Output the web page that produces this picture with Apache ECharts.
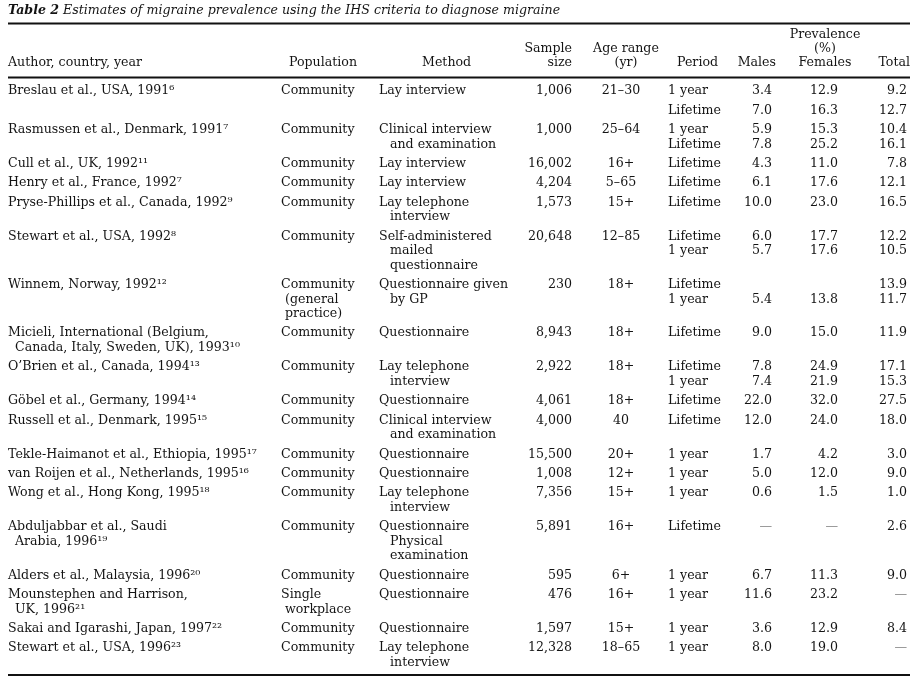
<!DOCTYPE html>
<html><head><meta charset="utf-8">
<script src="https://cdn.jsdelivr.net/npm/echarts@6/dist/echarts.min.js"></script>
<style>html,body{margin:0;padding:0;background:#fff}#main{width:920px;height:690px}</style>
</head><body><div id="main"></div>
<script>
const titleBold = "Table 2";
const titleText = "Estimates of migraine prevalence using the IHS criteria to diagnose migraine";
const headerLabels = ["Author, country, year","Population","Method","Sample\nsize","Age range\n(yr)","Period","Males","Prevalence\n(%)\nFemales","Total"];

const authors = ["Breslau et al., USA, 1991⁶","","Rasmussen et al., Denmark, 1991⁷","Cull et al., UK, 1992¹¹","Henry et al., France, 1992⁷","Pryse-Phillips et al., Canada, 1992⁹","Stewart et al., USA, 1992⁸","Winnem, Norway, 1992¹²","Micieli, International (Belgium,\nCanada, Italy, Sweden, UK), 1993¹⁰","O’Brien et al., Canada, 1994¹³","Göbel et al., Germany, 1994¹⁴","Russell et al., Denmark, 1995¹⁵","Tekle-Haimanot et al., Ethiopia, 1995¹⁷","van Roijen et al., Netherlands, 1995¹⁶","Wong et al., Hong Kong, 1995¹⁸","Abduljabbar et al., Saudi\nArabia, 1996¹⁹","Alders et al., Malaysia, 1996²⁰","Mounstephen and Harrison,\nUK, 1996²¹","Sakai and Igarashi, Japan, 1997²²","Stewart et al., USA, 1996²³"];
const populations = ["Community","","Community","Community","Community","Community","Community","Community\n(general\npractice)","Community","Community","Community","Community","Community","Community","Community","Community","Community","Single\nworkplace","Community","Community"];
const methods = ["Lay interview","","Clinical interview\nand examination","Lay interview","Lay interview","Lay telephone\ninterview","Self-administered\nmailed\nquestionnaire","Questionnaire given\nby GP","Questionnaire","Lay telephone\ninterview","Questionnaire","Clinical interview\nand examination","Questionnaire","Questionnaire","Lay telephone\ninterview","Questionnaire\nPhysical\nexamination","Questionnaire","Questionnaire","Questionnaire","Lay telephone\ninterview"];
const sampleSizes = ["1,006","","1,000","16,002","4,204","1,573","20,648","230","8,943","2,922","4,061","4,000","15,500","1,008","7,356","5,891","595","476","1,597","12,328"];
const ageRanges = ["21–30","","25–64","16+","5–65","15+","12–85","18+","18+","18+","18+","40","20+","12+","15+","16+","6+","16+","15+","18–65"];
const periods = ["1 year","Lifetime","1 year\nLifetime","Lifetime","Lifetime","Lifetime","Lifetime\n1 year","Lifetime\n1 year","Lifetime","Lifetime\n1 year","Lifetime","Lifetime","1 year","1 year","1 year","Lifetime","1 year","1 year","1 year","1 year"];
const males = ["3.4","7.0","5.9\n7.8","4.3","6.1","10.0","6.0\n5.7","\n5.4","9.0","7.8\n7.4","22.0","12.0","1.7","5.0","0.6","—","6.7","11.6","3.6","8.0"];
const females = ["12.9","16.3","15.3\n25.2","11.0","17.6","23.0","17.7\n17.6","\n13.8","15.0","24.9\n21.9","32.0","24.0","4.2","12.0","1.5","—","11.3","23.2","12.9","19.0"];
const totals = ["9.2","12.7","10.4\n16.1","7.8","12.1","16.5","12.2\n10.5","13.9\n11.7","11.9","17.1\n15.3","27.5","18.0","3.0","9.0","1.0","2.6","9.0","—","8.4","—"];

const FONT = '"DejaVu Serif", "Liberation Serif", serif';
const INK = '#141414';
const FS = 12.6;
const chart = echarts.init(document.getElementById('main'), null, {renderer: 'canvas'});

const columns = [
  {data: authors, x: 8, align: 'left', indent: 7},
  {data: populations, x: 281, align: 'left', indent: 4},
  {data: methods, x: 379, align: 'left', indent: 11},
  {data: sampleSizes, x: 572, align: 'right', indent: 0},
  {data: ageRanges, x: 621, align: 'center', indent: 0},
  {data: periods, x: 668, align: 'left', indent: 0},
  {data: males, x: 772, align: 'right', indent: 0},
  {data: females, x: 838, align: 'right', indent: 0},
  {data: totals, x: 907, align: 'right', indent: 0}
];
const headerPos = [
  {x: 8, align: 'left'}, {x: 289, align: 'left'}, {x: 422, align: 'left'},
  {x: 572, align: 'right'}, {x: 626, align: 'center'}, {x: 677, align: 'left'},
  {x: 776, align: 'right'}, {x: 825, align: 'center'}, {x: 910, align: 'right'}
];

function txt(s, x, y, align) {
  return {
    type: 'text', silent: true,
    style: {text: s, x: x, y: y, align: align, verticalAlign: 'middle',
      fontFamily: FONT, fontSize: FS, fill: s === '—' ? '#8a8a8a' : INK}
  };
}

const els = [];
// title
els.push({type: 'text', silent: true, style: {
  text: '{b|' + titleBold + '} {i|' + titleText + '}', x: 8, y: 11, verticalAlign: 'middle',
  fontFamily: FONT, fontSize: 12.6, fill: INK,
  rich: {b: {fontFamily: FONT, fontSize: 12.6, fontWeight: 'bold', fontStyle: 'italic', fill: INK},
         i: {fontFamily: FONT, fontSize: 12.6, fontStyle: 'italic', fill: INK}}
}});
// rules
[23.5, 77.5, 675].forEach(function (y) {
  els.push({type: 'line', silent: true, shape: {x1: 8, y1: y, x2: 910, y2: y},
    style: {stroke: '#111', lineWidth: 2}});
});
// header
headerLabels.forEach(function (h, i) {
  const lines = h.split('\n');
  lines.forEach(function (ln, k) {
    els.push(txt(ln, headerPos[i].x, 63 - (lines.length - 1 - k) * 14, headerPos[i].align));
  });
});
// body
const LH = 14.5, GAP = 19.4;
let y = 91;
for (let r = 0; r < authors.length; r++) {
  let n = 1;
  columns.forEach(function (c) { n = Math.max(n, c.data[r].split('\n').length); });
  columns.forEach(function (c) {
    c.data[r].split('\n').forEach(function (ln, k) {
      if (!ln) return;
      els.push(txt(ln, c.x + (k > 0 ? c.indent : 0), y + k * LH, c.align));
    });
  });
  y += (n - 1) * LH + GAP;
}

chart.setOption({animation: false, backgroundColor: '#fff', graphic: {elements: els}});
</script></body></html>
